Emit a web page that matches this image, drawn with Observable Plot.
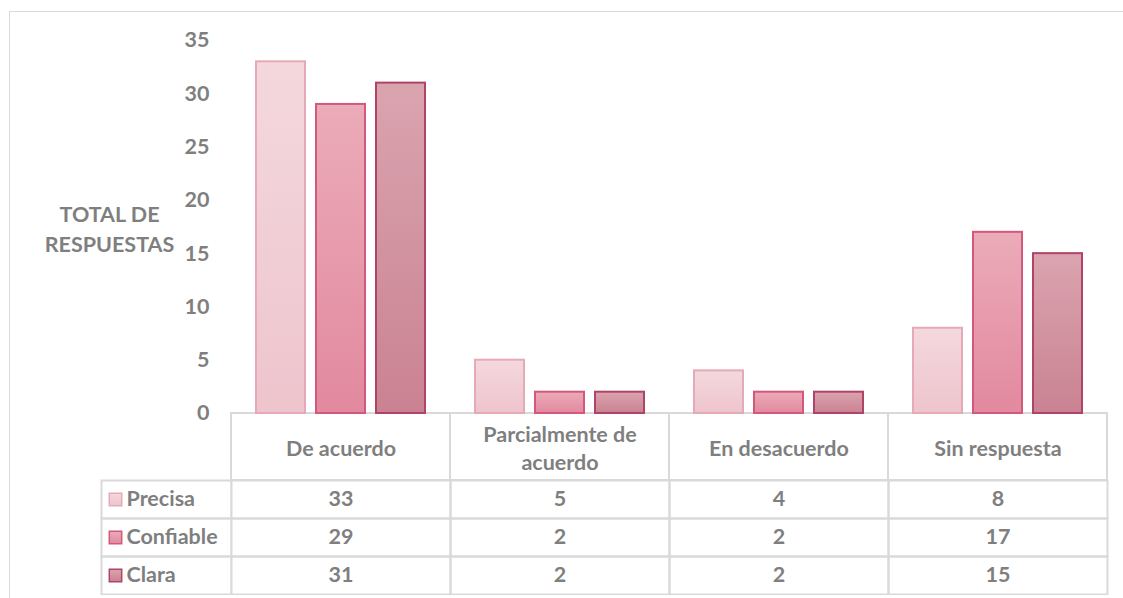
<!DOCTYPE html>
<html>
<head>
<meta charset="utf-8">
<script src="https://cdn.jsdelivr.net/npm/d3@7"></script>
<script src="https://cdn.jsdelivr.net/npm/@observablehq/plot@0.6"></script>
<style>
  html, body { margin: 0; padding: 0; background: #fff; }
  #wrap { position: relative; width: 1123px; height: 598px; overflow: hidden; background: #fff;
          font-family: Lato, "Open Sans", sans-serif; }
  .abs { position: absolute; }
  #border { position: absolute; left: 9px; top: 11px; right: -5px; bottom: -5px;
            border-left: 1px solid #d9d9d9; border-top: 1px solid #d9d9d9; pointer-events: none; }
</style>
</head>
<body>
<svg width="0" height="0" style="position:absolute">
  <defs>
    <linearGradient id="g0" x1="0" y1="0" x2="0" y2="1">
      <stop offset="0" stop-color="#f4d8de"/><stop offset="1" stop-color="#eec4cd"/>
    </linearGradient>
    <linearGradient id="g1" x1="0" y1="0" x2="0" y2="1">
      <stop offset="0" stop-color="#ebabb9"/><stop offset="1" stop-color="#e2899f"/>
    </linearGradient>
    <linearGradient id="g2" x1="0" y1="0" x2="0" y2="1">
      <stop offset="0" stop-color="#daa4af"/><stop offset="1" stop-color="#ca8292"/>
    </linearGradient>
  </defs>
</svg>
<div id="wrap"></div>
<script>
// ---- data ----
const categories = ["De acuerdo", "Parcialmente de acuerdo", "En desacuerdo", "Sin respuesta"];
const headerLabels = ["De acuerdo", "Parcialmente de\nacuerdo", "En desacuerdo", "Sin respuesta"];
const series = ["Precisa", "Confiable", "Clara"];
const precisa = [33, 5, 4, 8];
const confiable = [29, 2, 2, 17];
const clara = [31, 2, 2, 15];
const yTicks = [0, 5, 10, 15, 20, 25, 30, 35];
const yLabel = "TOTAL DE\nRESPUESTAS";

// ---- styles ----
const fills = ["url(#g0)", "url(#g1)", "url(#g2)"];
const strokes = ["#e5a9b7", "#d4587c", "#b04468"];
const textColor = "#7f7f7f";
const lineColor = "#d9d9d9";
const font = "Lato, 'Open Sans', sans-serif";
const fs = 21.5;

const values = [precisa, confiable, clara];
const rows = [];
series.forEach((s, si) => categories.forEach((c, ci) => rows.push({series: s, category: c, value: values[si][ci]})));

const wrap = document.getElementById("wrap");
const baseStyle = {fontFamily: font, fontSize: fs + "px", fontWeight: "bold", color: textColor, background: "transparent"};

// ---- Plot A: bars, y axis, header row ----
const plotA = Plot.plot({
  width: 1123, height: 480,
  marginLeft: 231, marginRight: 16, marginTop: 40, marginBottom: 67,
  style: baseStyle,
  fx: {domain: categories, padding: 0, axis: null},
  x: {domain: series, paddingInner: 0.183, paddingOuter: 0.4, axis: null},
  y: {domain: [0, 35], ticks: yTicks, tickSize: 0, tickPadding: 22, label: null},
  marks: [
    Plot.rect(categories, {fx: d => d, y1: 0, y2: 0, insetBottom: -67, fill: "none", stroke: lineColor, strokeWidth: 2}),
    ...series.map((s, i) => Plot.barY(rows.filter(r => r.series === s), {
      fx: "category", x: "series", y: "value", fill: fills[i], stroke: strokes[i], strokeWidth: 2
    })),
    Plot.text(categories, {fx: d => d, text: (d, i) => headerLabels[i], frameAnchor: "bottom", dy: 34,
      lineAnchor: "middle", lineHeight: 1.3, fontSize: fs, fontWeight: "bold", fill: textColor}),
    Plot.text([yLabel], {fx: () => categories[0], text: d => d, frameAnchor: "left", dx: -122,
      textAnchor: "middle", lineAnchor: "middle", lineHeight: 1.4, fontSize: fs, fontWeight: "bold", fill: textColor})
  ]
});
plotA.classList.add("abs");
plotA.style.left = "0px"; plotA.style.top = "0px";
wrap.appendChild(plotA);

// ---- Plot B: data table values ----
const plotB = Plot.plot({
  width: 1123, height: 116,
  marginLeft: 231, marginRight: 16, marginTop: 1, marginBottom: 1,
  style: baseStyle,
  fx: {domain: categories, padding: 0, axis: null},
  fy: {domain: series, padding: 0, axis: null},
  marks: [
    Plot.frame({stroke: lineColor, strokeWidth: 2}),
    Plot.text(rows, {fx: "category", fy: "series", text: d => String(d.value), frameAnchor: "middle",
      fontSize: fs, fontWeight: "bold", fill: textColor})
  ]
});
plotB.classList.add("abs");
plotB.style.left = "0px"; plotB.style.top = "479px";
wrap.appendChild(plotB);

// ---- Plot C: legend column of the table ----
const plotC = Plot.plot({
  width: 132, height: 116,
  marginLeft: 1, marginRight: 1, marginTop: 1, marginBottom: 1,
  style: baseStyle,
  color: {type: "identity"},
  fy: {domain: series, padding: 0, axis: null},
  marks: [
    Plot.frame({stroke: lineColor, strokeWidth: 2}),
    Plot.dot(series, {fy: d => d, frameAnchor: "left", dx: 14, symbol: "square", r: 7,
      fill: (d, i) => fills[i], stroke: (d, i) => strokes[i], strokeWidth: 1.5}),
    Plot.text(series, {fy: d => d, text: d => d, frameAnchor: "left", dx: 25, textAnchor: "start",
      fontSize: fs, fontWeight: "bold", fill: textColor})
  ]
});
plotC.classList.add("abs");
plotC.style.left = "100px"; plotC.style.top = "479px";
wrap.appendChild(plotC);

const border = document.createElement("div");
border.id = "border";
wrap.appendChild(border);
</script>
</body>
</html>
